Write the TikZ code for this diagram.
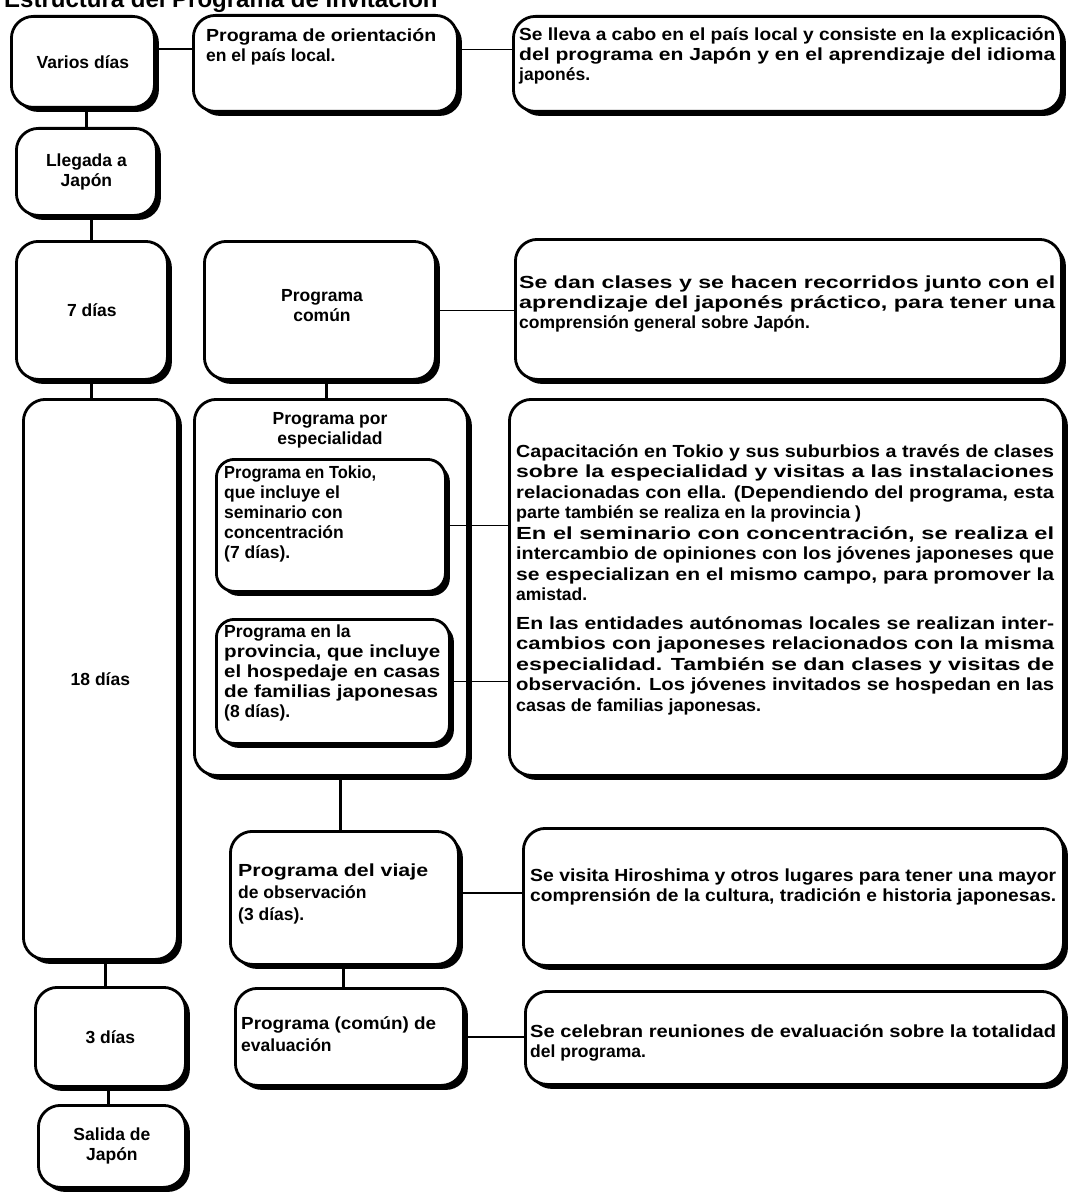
\documentclass[tikz,border=0pt]{standalone}
\usepackage{fontspec}
\newfontfamily\boxfont{Liberation Sans Bold}
\usetikzlibrary{shadows}
\newcommand\fs{\fontsize{17.5}{20}\selectfont}
\newcommand\fl[2]{\resizebox{#1pt}{\height}{#2}}
\tikzset{
  box/.style={draw, line width=2.8pt, rounded corners=22pt, fill=white,
    anchor=north west, inner sep=0pt, font=\boxfont\fs, align=center,
    drop shadow={shadow xshift=4.5pt, shadow yshift=-4.5pt, fill=black, opacity=1}},
  inbox/.style={box, rounded corners=18pt},
  txt/.style={font=\boxfont\fs, align=left, inner sep=0pt, anchor=north west},
  ctr/.style={font=\boxfont\fs, align=center, inner sep=0pt},
  hconn/.style={line width=1.4pt},
  vconn/.style={line width=3pt},
}
\begin{document}
\begin{tikzpicture}[x=1pt,y=-1pt]
\useasboundingbox (0,0) rectangle (1070,1193);
\clip (0,0) rectangle (1070,1193);
\node[font=\boxfont\fontsize{24}{26}\selectfont, anchor=base west, inner sep=0pt] (title) at (4,8) {Estructura del Programa de Invitación};

% left column
\node[box, minimum width=143, minimum height=91] (A) at (10,15) {Varios días};
\node[box, minimum width=140, minimum height=87] (B) at (15,127) {Llegada a\\Japón};
\node[box, minimum width=151, minimum height=138] (C) at (15,240) {7 días};
\node[box, minimum width=154, minimum height=560] (D) at (22,398) {18 días};
\node[box, minimum width=150, minimum height=99] (E) at (34,986) {3 días};
\node[box, minimum width=147, minimum height=82] (F) at (37,1104) {Salida de\\Japón};

% middle column
\node[box, minimum width=264, minimum height=96] (G) at (192,14) {};
\node[box, minimum width=231, minimum height=138] (H) at (203,240) {};
\node[box, minimum width=273, minimum height=376] (I) at (193,398) {};
\node[inbox, minimum width=229, minimum height=132] (I1) at (215,458) {};
\node[inbox, minimum width=233, minimum height=124] (I2) at (215,618) {};
\node[box, minimum width=228, minimum height=133] (J) at (229,830) {};
\node[box, minimum width=228, minimum height=97] (K) at (234,987) {};

% right column
\node[box, minimum width=548, minimum height=95] (L) at (512,15) {};
\node[box, minimum width=546, minimum height=140] (M) at (514,238) {};
\node[box, minimum width=554, minimum height=376] (N) at (508,398) {};
\node[box, minimum width=540, minimum height=137] (O) at (522,827) {};
\node[box, minimum width=538, minimum height=93] (P) at (524,990) {};

% texts middle
\node[txt] (tG) at (206,28) {\fl{230}{Programa de orientación}\\en el país local.};
\node[ctr] (tH) at (322,306) {Programa\\común};
\node[ctr, anchor=north] (tI) at (330,412) {Programa por\\especialidad};
\node[txt] (tI1) at (224,466) {\fl{152}{Programa en Tokio,}\\que incluye el\\seminario con\\concentración\\(7 días).};
\node[txt] (tI2) at (224,625) {Programa en la\\\fl{216}{provincia, que incluye}\\\fl{216}{el hospedaje en casas}\\\fl{214}{de familias japonesas}\\(8 días).};
\node[txt, font=\boxfont\fontsize{17.5}{22}\selectfont] (tJ) at (238,864) {\fl{190}{Programa del viaje}\\de observación\\(3 días).};
\node[txt, font=\boxfont\fontsize{17.5}{22}\selectfont] (tK) at (241,1016) {\fl{195}{Programa (común) de}\\evaluación};

% texts right
\node[txt] (tL) at (519,27) {\fl{536}{Se lleva a cabo en el país local y consiste en la explicación}\\
\fl{536}{del programa en Japón y en el aprendizaje del idioma}\\japonés.};
\node[txt] (tM) at (519,276) {\fl{536}{Se dan clases y se hacen recorridos junto con el}\\
\fl{536}{aprendizaje del japonés práctico, para tener una}\\comprensión general sobre Japón.};
\node[txt, font=\boxfont\fontsize{17.5}{20.5}\selectfont] (tN) at (516,444) {\fl{538}{Capacitación en Tokio y sus suburbios a través de clases}\\
\fl{538}{sobre la especialidad y visitas a las instalaciones}\\
\fl{538}{relacionadas con ella. (Dependiendo del programa, esta}\\
\fl{345}{parte también se realiza en la provincia )}\\
\fl{538}{En el seminario con concentración, se realiza el}\\
\fl{538}{intercambio de opiniones con los jóvenes japoneses que}\\
\fl{538}{se especializan en el mismo campo, para promover la}\\
amistad.\\[8pt]
\fl{538}{En las entidades autónomas locales se realizan inter-}\\
\fl{538}{cambios con japoneses relacionados con la misma}\\
\fl{538}{especialidad. También se dan clases y visitas de}\\
\fl{538}{observación. Los jóvenes invitados se hospedan en las}\\
\fl{245}{casas de familias japonesas.}};
\node[txt] (tO) at (530,869) {\fl{526}{Se visita Hiroshima y otros lugares para tener una mayor}\\
\fl{526}{comprensión de la cultura, tradición e historia japonesas.}};
\node[txt] (tP) at (530,1024) {\fl{526}{Se celebran reuniones de evaluación sobre la totalidad}\\del programa.};

% vertical connectors
\draw[vconn] (A.south -| B.north) -- (B.north);
\draw[vconn] (B.south -| C.north) -- (C.north);
\draw[vconn] (C.south) -- (C.south |- D.north);
\draw[vconn] (D.south -| 105,0) -- (E.north -| 105,0);
\draw[vconn] (E.south -| 108,0) -- (F.north -| 108,0);
\draw[vconn] (H.south -| 326,0) -- (I.north -| 326,0);
\draw[vconn] (I.south -| 340,0) -- (J.north -| 340,0);
\draw[vconn] (J.south -| 343,0) -- (K.north -| 343,0);

% horizontal connectors
\draw[hconn] ([yshift=13pt]A.east) -- ([yshift=13pt]A.east -| G.west);
\draw[hconn] ([yshift=14pt]G.east) -- ([yshift=14pt]G.east -| L.west);
\draw[hconn] (H.east) -- (H.east -| M.west);
\draw[hconn] (I1.east) -- (I1.east -| N.west);
\draw[hconn] (I2.east) -- (I2.east -| N.west);
\draw[hconn] ([yshift=5pt]J.east) -- ([yshift=5pt]J.east -| O.west);
\draw[hconn] (K.east) -- (K.east -| P.west);
\end{tikzpicture}
\end{document}
